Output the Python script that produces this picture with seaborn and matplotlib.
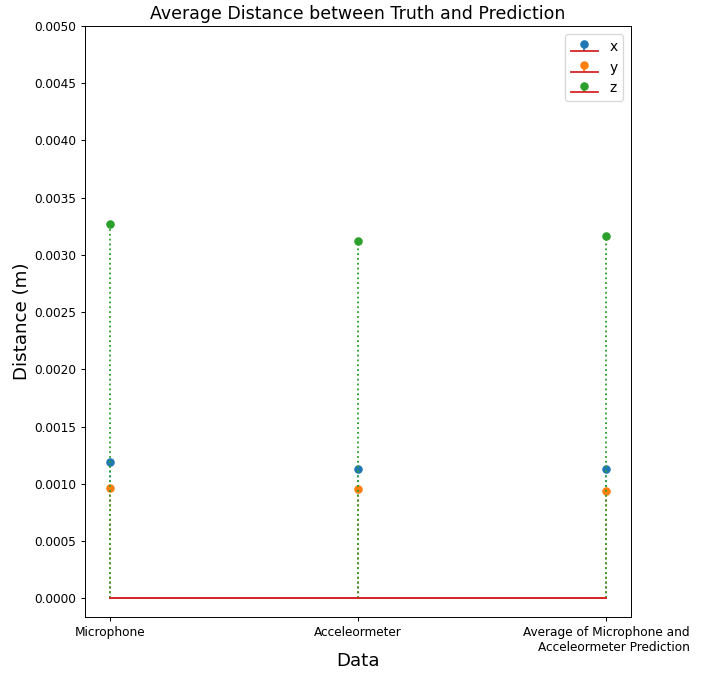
import matplotlib
matplotlib.use("Agg")
import matplotlib.pyplot as plt
from matplotlib.ticker import MultipleLocator, FormatStrFormatter
import seaborn as sns
import numpy as np

categories = ["Microphone", "Acceleormeter",
              "Average of Microphone and\nAcceleormeter Prediction"]
dist_x = [0.001187, 0.001126, 0.001126]
dist_y = [0.000960, 0.000951, 0.000934]
dist_z = [0.003272, 0.003124, 0.003168]
series_names = ["x", "y", "z"]

palette = sns.color_palette("tab10")
colors = [palette[0], palette[1], palette[2]]

DPI = 87.5
fig = plt.figure(figsize=(711 / DPI, 673 / DPI), dpi=DPI)
ax = fig.add_axes([0.1196, 0.0832, 0.7679, 0.8782])

pos = np.arange(len(categories))
for name, vals, col in zip(series_names, [dist_x, dist_y, dist_z], colors):
    cont = ax.stem(pos, vals, linefmt=":", markerfmt="o", basefmt="C3-", label=name)
    cont.markerline.set_color(col)
    cont.stemlines.set_color(col)

ax.set_ylim(top=0.005)
ax.yaxis.set_major_locator(MultipleLocator(0.0005))
ax.yaxis.set_major_formatter(FormatStrFormatter("%.4f"))
ax.set_xticks(pos)
ax.set_xticklabels(categories)
for lbl in ax.get_xticklabels():
    lbl.set_multialignment("right")
ax.set_title("Average Distance between Truth and Prediction", fontsize=14.3)
ax.set_xlabel("Data", fontsize=15, labelpad=-1)
ax.set_ylabel("Distance (m)", fontsize=15, labelpad=3)
ax.legend(loc="upper right", fontsize=11.3, borderaxespad=0.6)

fig.savefig("out.png", dpi=DPI)
